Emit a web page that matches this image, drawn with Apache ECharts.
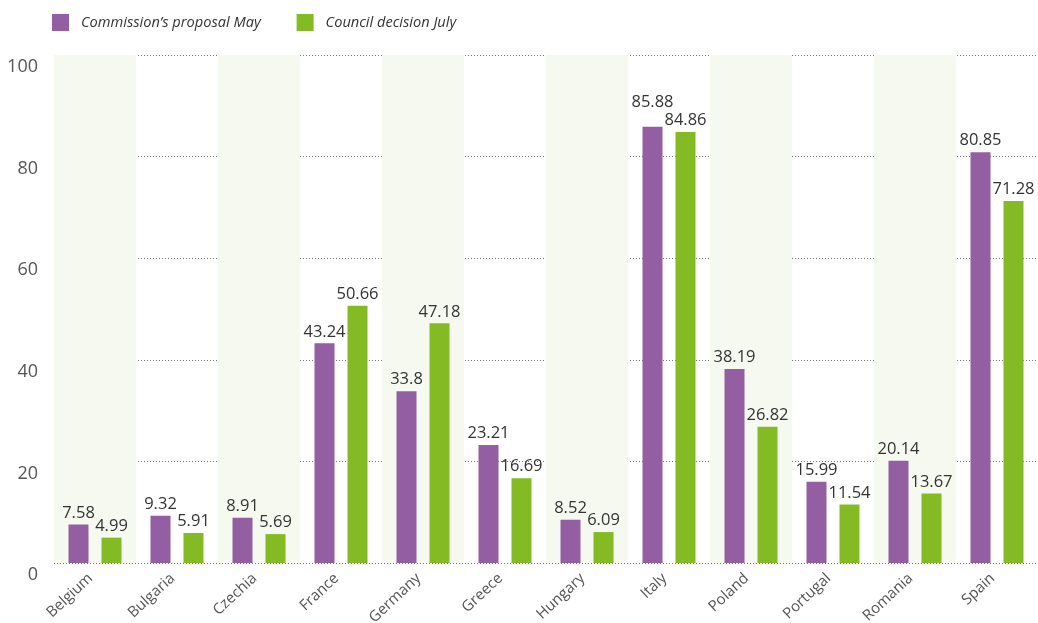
<!DOCTYPE html>
<html>
<head>
<meta charset="utf-8">
<script src="https://cdn.jsdelivr.net/npm/echarts@6/dist/echarts.min.js"></script>
<style>
  html, body { margin: 0; padding: 0; background: #fff; }
  #main { width: 1038px; height: 623px; }
</style>
</head>
<body>
<div id="main"></div>
<script>
var countries = ['Belgium', 'Bulgaria', 'Czechia', 'France', 'Germany', 'Greece',
                 'Hungary', 'Italy', 'Poland', 'Portugal', 'Romania', 'Spain'];
var proposalMay = [7.58, 9.32, 8.91, 43.24, 33.8, 23.21, 8.52, 85.88, 38.19, 15.99, 20.14, 80.85];
var councilJuly = [4.99, 5.91, 5.69, 50.66, 47.18, 16.69, 6.09, 84.86, 26.82, 11.54, 13.67, 71.28];
var yTicks = [0, 20, 40, 60, 80, 100];

var fontName = '"Open Sans", "Noto Sans", sans-serif';

var labelStyle = {
    show: true,
    position: 'top',
    distance: 3,
    color: '#333',
    fontSize: 16.5,
    fontFamily: fontName
};

// lift the taller label when two wide labels would collide (Italy)
var proposalData = proposalMay.map(function (v, i) {
    var w = councilJuly[i];
    var wide = String(v).length >= 5 && String(w).length >= 5;
    if (wide && v >= w && (v - w) < 4) {
        return { value: v, label: { offset: [0, -13] } };
    }
    return v;
});

option = {
    animation: false,
    backgroundColor: '#fff',
    legend: {
        left: 47,
        top: 9,
        itemWidth: 17,
        itemHeight: 17,
        itemGap: 36,
        icon: 'rect',
        data: ['Commission\u2019s proposal May', 'Council decision July'],
        textStyle: {
            color: '#333',
            fontSize: 14.6,
            fontStyle: 'italic',
            fontFamily: fontName,
            padding: [0, 0, 0, 7]
        }
    },
    grid: {
        left: 54,
        right: 0,
        top: 55,
        bottom: 60,
        containLabel: false,
        outerBoundsMode: 'none'
    },
    xAxis: {
        type: 'category',
        data: countries,
        axisLine: { show: false },
        axisTick: { show: false },
        axisLabel: {
            rotate: 43,
            margin: 9,
            color: '#555',
            fontSize: 15,
            fontFamily: fontName,
            padding: [0, 6, 0, 0]
        },
        splitArea: {
            show: true,
            areaStyle: { color: ['#f6f9f0', 'rgba(255,255,255,0)'] }
        }
    },
    yAxis: {
        type: 'value',
        min: yTicks[0],
        max: yTicks[yTicks.length - 1],
        interval: 20,
        axisLine: { show: false },
        axisTick: { show: false },
        axisLabel: {
            margin: 16,
            color: '#555',
            fontSize: 18,
            fontFamily: fontName,
            verticalAlign: 'top',
            padding: [3, 0, 0, 0]
        },
        splitLine: {
            show: true,
            lineStyle: { color: '#777', type: [1, 2], width: 1 }
        }
    },
    series: [
        {
            name: 'Commission\u2019s proposal May',
            type: 'bar',
            data: proposalData,
            barWidth: 20,
            barGap: '65%',
            itemStyle: { color: '#945ea3' },
            label: labelStyle
        },
        {
            name: 'Council decision July',
            type: 'bar',
            data: councilJuly,
            barWidth: 20,
            barGap: '65%',
            itemStyle: { color: '#84bb25' },
            label: labelStyle
        }
    ]
};

var myChart = echarts.init(document.getElementById('main'));
myChart.setOption(option);
</script>
</body>
</html>
